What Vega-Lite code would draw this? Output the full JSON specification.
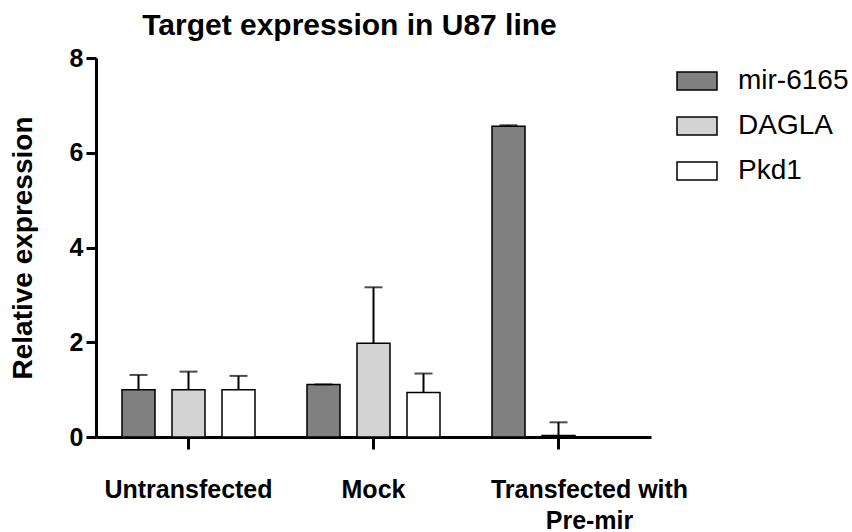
{
  "$schema": "https://vega.github.io/schema/vega-lite/v6.json",
  "autosize": "none",
  "width": 555,
  "height": 379,
  "padding": {"left": 96, "top": 58, "right": 201, "bottom": 95},
  "background": "white",
  "title": {
    "text": "Target expression in U87 line",
    "font": "Liberation Sans",
    "fontSize": 30,
    "fontWeight": "bold",
    "color": "black",
    "anchor": "middle",
    "dx": -24,
    "offset": 5
  },
  "data": {
    "values": [
      {"group": "Untransfected", "gene": "mir-6165", "value": 1.0, "upper": 1.31},
      {"group": "Untransfected", "gene": "DAGLA", "value": 1.0, "upper": 1.38},
      {"group": "Untransfected", "gene": "Pkd1", "value": 1.0, "upper": 1.29},
      {"group": "Mock", "gene": "mir-6165", "value": 1.11, "upper": 1.11},
      {"group": "Mock", "gene": "DAGLA", "value": 1.98, "upper": 3.16},
      {"group": "Mock", "gene": "Pkd1", "value": 0.94, "upper": 1.34},
      {"group": "Transfected with Pre-mir", "gene": "mir-6165", "value": 6.56, "upper": 6.58},
      {"group": "Transfected with Pre-mir", "gene": "DAGLA", "value": 0.03, "upper": 0.31},
      {"group": "Transfected with Pre-mir", "gene": "Pkd1", "value": 0.0, "upper": 0.0}
    ]
  },
  "encoding": {
    "x": {
      "field": "group",
      "type": "nominal",
      "sort": ["Untransfected", "Mock", "Transfected with Pre-mir"],
      "scale": {"paddingInner": 0, "paddingOuter": 0},
      "axis": {
        "title": null,
        "labelAngle": 0,
        "labelFont": "Liberation Sans",
        "labelFontSize": 25,
        "labelFontWeight": "bold",
        "labelColor": "black",
        "labelPadding": 28,
        "labelLineHeight": 31,
        "labelLimit": 400,
        "labelOffset": {"condition": {"test": "datum.value == 'Transfected with Pre-mir'", "value": 31}, "value": 0},
        "labelExpr": "datum.value == 'Transfected with Pre-mir' ? ['Transfected with', 'Pre-mir'] : datum.label",
        "domainColor": "black",
        "domainWidth": 3,
        "tickColor": "black",
        "tickWidth": 3,
        "tickSize": 12
      }
    },
    "xOffset": {
      "field": "gene",
      "type": "nominal",
      "sort": ["mir-6165", "DAGLA", "Pkd1"],
      "scale": {"paddingInner": 0.34, "paddingOuter": 0.52}
    }
  },
  "layer": [
    {
      "mark": {"type": "bar", "stroke": "black", "strokeWidth": 1.5},
      "encoding": {
        "y": {
          "field": "value",
          "type": "quantitative",
          "scale": {"domain": [0, 8], "nice": false},
          "axis": {
            "title": "Relative expression",
            "titleFont": "Liberation Sans",
            "titleFontSize": 28,
            "titleFontWeight": "bold",
            "titleColor": "black",
            "titlePadding": 32,
            "values": [0, 2, 4, 6, 8],
            "grid": false,
            "labelFont": "Liberation Sans",
            "labelFontSize": 25,
            "labelFontWeight": "bold",
            "labelColor": "black",
            "labelPadding": 3,
            "domainColor": "black",
            "domainWidth": 3,
            "tickColor": "black",
            "tickWidth": 3,
            "tickSize": 10
          }
        },
        "fill": {
          "field": "gene",
          "type": "nominal",
          "sort": ["mir-6165", "DAGLA", "Pkd1"],
          "scale": {"domain": ["mir-6165", "DAGLA", "Pkd1"], "range": ["#808080", "#d3d3d3", "#ffffff"]},
          "legend": {
            "title": null,
            "orient": "none",
            "legendX": 580,
            "legendY": 2,
            "symbolType": "M-1,-0.45H1V0.45H-1Z",
            "symbolSize": 1600,
            "symbolStrokeColor": "black",
            "symbolStrokeWidth": 1.5,
            "labelFont": "Liberation Sans",
            "labelFontSize": 28,
            "labelColor": "black",
            "labelOffset": 20,
            "rowPadding": 10,
            "padding": 0
          }
        }
      }
    },
    {
      "mark": {"type": "rule", "color": "black", "strokeWidth": 2},
      "encoding": {
        "y": {"field": "value", "type": "quantitative"},
        "y2": {"field": "upper"}
      }
    },
    {
      "mark": {"type": "tick", "color": "black", "thickness": 2, "size": 18},
      "encoding": {
        "y": {"field": "upper", "type": "quantitative"}
      }
    }
  ],
  "config": {
    "view": {"stroke": null}
  }
}
